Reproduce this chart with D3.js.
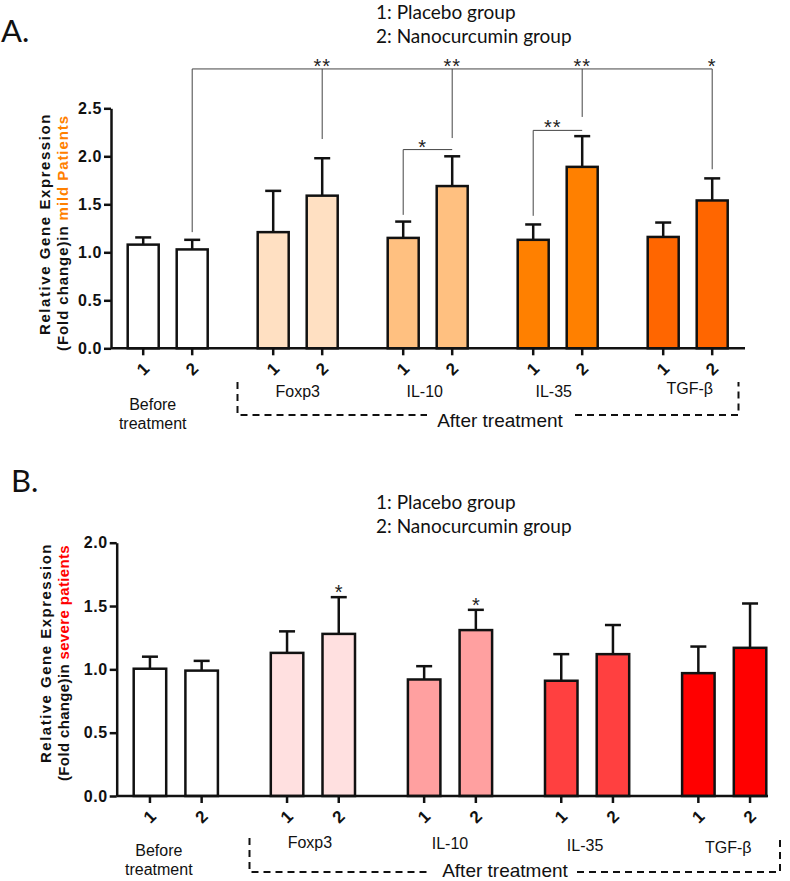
<!DOCTYPE html>
<html><head><meta charset="utf-8">
<script src="https://cdn.jsdelivr.net/npm/d3@7"></script>
<style>body{margin:0;background:#fff} svg{display:block}</style>
</head><body>
<svg id="c" width="790" height="881"></svg>
<script>
// ---------- DATA ----------
const groups = ["Before", "Foxp3", "IL-10", "IL-35", "TGF-β"];
const groupLabelLines = [["Before", "treatment"], ["Foxp3"], ["IL-10"], ["IL-35"], ["TGF-β"]];
const subgroups = ["1", "2"];
const legendLines = ["1: Placebo group", "2: Nanocurcumin group"];
const yTicksMild = [0, 0.5, 1.0, 1.5, 2.0, 2.5];
const yTicksSevere = [0, 0.5, 1.0, 1.5, 2.0];

// mean values, ordered group by group: [g1-1, g1-2, g2-1, g2-2, ...]
const mildMean = [1.08, 1.03, 1.21, 1.59, 1.15, 1.69, 1.13, 1.89, 1.16, 1.54];
const mildSem  = [0.075, 0.10, 0.43, 0.39, 0.17, 0.31, 0.16, 0.32, 0.15, 0.23];
const severeMean = [1.005, 0.99, 1.13, 1.28, 0.92, 1.31, 0.91, 1.12, 0.97, 1.17];
const severeSem  = [0.095, 0.077, 0.17, 0.29, 0.105, 0.16, 0.21, 0.23, 0.21, 0.35];

const mildColors = ["#ffffff", "#ffe0c2", "#ffc080", "#ff8000", "#ff6600"];
const severeColors = ["#ffffff", "#ffe0e0", "#ffa0a0", "#ff4040", "#ff0000"];

// significance annotations (panel A)
const mildBracketLevel = 2.91;
const mildBracketDrops = [
  {g: 0, s: 1, to: 1.21, label: ""},
  {g: 1, s: 1, to: 2.18, label: "**"},
  {g: 2, s: 1, to: 2.19, label: "**"},
  {g: 3, s: 1, to: 2.41, label: "**"},
  {g: 4, s: 1, to: 1.865, label: "*"}
];
const mildPairBrackets = [
  {g: 2, level: 2.07, drop: 1.39, label: "*"},
  {g: 3, level: 2.27, drop: 1.38, label: "**"}
];
// significance annotations (panel B) — stars above bars
const severeStars = [
  {g: 1, s: 1, label: "*"},
  {g: 2, s: 1, label: "*"}
];

// ---------- DRAW ----------
const svg = d3.select("#c");
const sansB = "Arial, 'Liberation Sans', Helvetica, sans-serif";
const calib = "Lato, 'Open Sans', sans-serif";

// spread a text's letters so it spans the wanted length
function fitSpacing(sel, target) {
  const node = sel.node();
  const nat = node.getComputedTextLength();
  const n = node.textContent.length;
  const ls = Math.max(0, (target - nat) / n);
  sel.attr("letter-spacing", ls + "px");
}

function drawPanel(o) {
  const g = svg.append("g");
  const y = d3.scaleLinear().domain([0, o.yMax]).range(o.yRange);
  const gx = d3.scaleBand().domain(groups).range(o.groupRange).padding(0);
  const half = gx.bandwidth() / 2;
  const pI = 1 - o.barW / o.subStep;
  const sx = d3.scaleBand().domain(subgroups).range([half - o.subStep, half + o.subStep])
    .paddingInner(pI).paddingOuter(pI / 2);
  const cx = (gi, si) => gx(groups[gi]) + sx(subgroups[si]) + sx.bandwidth() / 2;

  const bars = [];
  groups.forEach((grp, gi) => subgroups.forEach((s, si) => {
    const k = gi * 2 + si;
    bars.push({gi, si, mean: o.mean[k], sem: o.sem[k], color: o.colors[gi]});
  }));

  // error bars (upper only)
  g.selectAll(".eb").data(bars).join("line")
    .attr("x1", d => cx(d.gi, d.si)).attr("x2", d => cx(d.gi, d.si))
    .attr("y1", d => y(d.mean)).attr("y2", d => y(d.mean + d.sem))
    .attr("stroke", "#111").attr("stroke-width", 2.5);
  g.selectAll(".cap").data(bars).join("line")
    .attr("x1", d => cx(d.gi, d.si) - 8).attr("x2", d => cx(d.gi, d.si) + 8)
    .attr("y1", d => y(d.mean + d.sem)).attr("y2", d => y(d.mean + d.sem))
    .attr("stroke", "#111").attr("stroke-width", 2.5);

  // bars
  g.selectAll(".bar").data(bars).join("rect")
    .attr("x", d => gx(groups[d.gi]) + sx(subgroups[d.si]))
    .attr("width", sx.bandwidth())
    .attr("y", d => y(d.mean))
    .attr("height", d => y(0) - y(d.mean))
    .attr("fill", d => d.color)
    .attr("stroke", "#111").attr("stroke-width", 2.5);

  // y axis
  const ya = g.append("g").attr("transform", `translate(${o.axisX},0)`)
    .call(d3.axisLeft(y).tickValues(o.yTicks).tickFormat(d3.format(".1f")).tickSize(7).tickSizeOuter(0));
  ya.select(".domain").attr("stroke", "#111").attr("stroke-width", 2.5);
  ya.selectAll(".tick line").attr("stroke", "#111").attr("stroke-width", 2.5);
  ya.selectAll(".tick text").attr("font-family", sansB).attr("font-weight", "bold")
    .attr("font-size", 16).attr("letter-spacing", "0.6px").attr("fill", "#111").attr("x", -9);

  // x axis line + ticks
  g.append("line").attr("x1", o.axisX).attr("x2", o.axisXEnd).attr("y1", y(0)).attr("y2", y(0))
    .attr("stroke", "#111").attr("stroke-width", 2.5);
  g.selectAll(".xt").data(bars).join("line")
    .attr("x1", d => cx(d.gi, d.si)).attr("x2", d => cx(d.gi, d.si))
    .attr("y1", y(0)).attr("y2", y(0) + 7)
    .attr("stroke", "#111").attr("stroke-width", 2.5);
  g.selectAll(".xl").data(bars).join("text")
    .attr("transform", d => `translate(${cx(d.gi, d.si)},${y(0) + 21}) rotate(-45)`)
    .attr("text-anchor", "middle").attr("dominant-baseline", "central")
    .attr("font-family", sansB).attr("font-weight", "bold").attr("font-size", 17).attr("fill", "#111")
    .text(d => subgroups[d.si]);

  // group labels
  groupLabelLines.forEach((lines, gi) => {
    const t = g.append("text").attr("text-anchor", "middle")
      .attr("font-family", sansB).attr("font-size", 16).attr("fill", "#111");
    lines.forEach((ln, li) => {
      t.append("tspan").attr("x", gx(groups[gi]) + half + o.labelDx[gi])
        .attr("y", o.labelY[gi] + li * o.labelLH).text(ln);
    });
  });

  // dashed "After treatment" bracket
  const dash = {stroke: "#111", "stroke-width": 2, "stroke-dasharray": "7,5", fill: "none"};
  const db = o.dashBox;
  const p1 = g.append("path").attr("d", `M${db.x0},${db.top}V${db.bot}H${db.gap0}`);
  const p2 = g.append("path").attr("d", `M${db.gap1},${db.bot}H${db.x1}V${db.top}`);
  [p1, p2].forEach(p => Object.entries(dash).forEach(([k, v]) => p.attr(k, v)));
  g.append("text").attr("x", db.textX).attr("y", db.textY).attr("text-anchor", "middle")
    .attr("font-family", sansB).attr("font-size", 19).attr("fill", "#111").text("After treatment");

  // y label (anchored at its bottom start, spread to the measured length)
  const yl1 = g.append("text")
    .attr("transform", `translate(${o.ylabX1},${o.ylabTop + o.ylabLen1}) rotate(-90)`)
    .attr("text-anchor", "start").attr("font-family", sansB).attr("font-weight", "bold")
    .attr("font-size", 15).attr("fill", "#111")
    .text("Relative Gene Expression");
  fitSpacing(yl1, o.ylabLen1);
  const yl2 = g.append("text")
    .attr("transform", `translate(${o.ylabX2},${o.ylabTop + 2 + o.ylabLen2}) rotate(-90)`)
    .attr("text-anchor", "start").attr("font-family", sansB).attr("font-weight", "bold")
    .attr("font-size", 15).attr("fill", "#111");
  yl2.append("tspan").text("(Fold change)in ");
  yl2.append("tspan").attr("fill", o.accent).text(o.accentText);
  fitSpacing(yl2, o.ylabLen2);

  // panel letter + legend
  g.append("text").attr("x", o.letterX).attr("y", o.letterY).attr("font-family", calib)
    .attr("font-size", 31).attr("fill", "#111").text(o.letter);
  legendLines.forEach((ln, i) => {
    g.append("text").attr("x", 376).attr("y", o.legendY + i * 24).attr("font-family", calib)
      .attr("font-size", 19).attr("fill", "#111").text(ln);
  });

  return {g, y, cx};
}

// ---------- Panel A ----------
const A = drawPanel({
  mean: mildMean, sem: mildSem, colors: mildColors, yTicks: yTicksMild, yMax: 2.5,
  yRange: [348.3, 108.3], groupRange: [102.7, 752.7], subStep: 49, barW: 31,
  axisX: 111, axisXEnd: 745,
  labelDx: [-15, 0, -3, -4, 2], labelY: [410, 396.5, 396.5, 396.5, 393.5], labelLH: 19,
  dashBox: {x0: 237.5, x1: 738.5, top: 382, bot: 415, gap0: 427, gap1: 575, textX: 500, textY: 426.5},
  ylabX1: 50, ylabX2: 68, ylabTop: 113, ylabLen1: 222, ylabLen2: 236,
  accent: "#ff8000", accentText: "mild Patients",
  letter: "A.", letterX: 1, letterY: 42, legendY: 19
});
{
  const {g, y, cx} = A;
  const lineAttrs = s => s.attr("stroke", "#444").attr("stroke-width", 1).attr("fill", "none");
  const yl = y(mildBracketLevel);
  const xs = mildBracketDrops.map(d => cx(d.g, d.s));
  lineAttrs(g.append("line").attr("x1", d3.min(xs)).attr("x2", d3.max(xs)).attr("y1", yl).attr("y2", yl));
  mildBracketDrops.forEach(d => {
    lineAttrs(g.append("line").attr("x1", cx(d.g, d.s)).attr("x2", cx(d.g, d.s)).attr("y1", yl).attr("y2", y(d.to)));
    g.append("text").attr("x", cx(d.g, d.s)).attr("y", yl + 4).attr("text-anchor", "middle")
      .attr("font-family", sansB).attr("font-size", 20).attr("letter-spacing", "1px").attr("fill", "#222").text(d.label);
  });
  mildPairBrackets.forEach(d => {
    const x1 = cx(d.g, 0), x2 = cx(d.g, 1), ly = y(d.level);
    lineAttrs(g.append("path").attr("d", `M${x1},${y(d.drop)}V${ly}H${x2}`));
    g.append("text").attr("x", (x1 + x2) / 2 - 5).attr("y", ly + 4).attr("text-anchor", "middle")
      .attr("font-family", sansB).attr("font-size", 20).attr("letter-spacing", "1px").attr("fill", "#222").text(d.label);
  });
}

// ---------- Panel B ----------
const B = drawPanel({
  mean: severeMean, sem: severeSem, colors: severeColors, yTicks: yTicksSevere, yMax: 2.0,
  yRange: [796, 542.7], groupRange: [107.25, 792.75], subStep: 51.7, barW: 32.5,
  axisX: 116.7, axisXEnd: 768,
  labelDx: [-17, -3, 0, -2, 4], labelY: [856, 847.5, 848.5, 850.5, 853], labelLH: 19,
  dashBox: {x0: 249.5, x1: 780, top: 838, bot: 872, gap0: 428, gap1: 577, textX: 505, textY: 876.5},
  ylabX1: 50.5, ylabX2: 68.5, ylabTop: 543, ylabLen1: 220, ylabLen2: 236,
  accent: "#ff0000", accentText: "severe patients",
  letter: "B.", letterX: 11, letterY: 492, legendY: 508.5
});
{
  const {g, y, cx} = B;
  severeStars.forEach(d => {
    const k = d.g * 2 + d.s;
    g.append("text").attr("x", cx(d.g, d.s)).attr("y", y(severeMean[k] + severeSem[k]) + 2)
      .attr("text-anchor", "middle").attr("font-family", sansB).attr("font-size", 20)
      .attr("fill", "#222").text(d.label);
  });
}
</script>
</body></html>
